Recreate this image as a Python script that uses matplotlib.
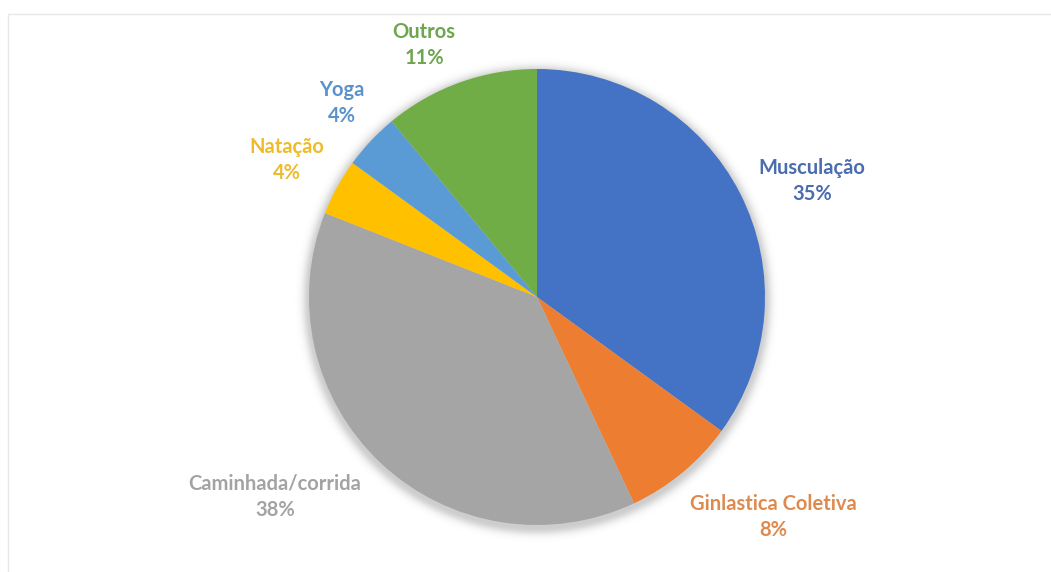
import numpy as np
import matplotlib
matplotlib.use("Agg")
import matplotlib.pyplot as plt
from matplotlib.patches import Rectangle

# atividades praticadas (%)
atividades = ["Musculação", "Ginlastica Coletiva", "Caminhada/corrida",
              "Natação", "Yoga", "Outros"]
percentuais = [35, 8, 38, 4, 4, 11]
cores = ["#4472C4", "#ED7D31", "#A5A5A5", "#FFC000", "#5B9BD5", "#70AD47"]
cores_texto = ["#4A6DAE", "#DE8A4E", "#A3A3A3", "#EDBB2C", "#5B92CC", "#6EA54F"]

W, H = 1051, 572
centro = (537, H - 297)
raio = 228
# posicao (px) do centro de cada rotulo
pos_rotulos = [(812, 181), (773, 517), (275, 497), (287, 160), (342, 103), (424, 45)]

plt.rcParams["font.family"] = ["Lato", "DejaVu Sans"]

fig = plt.figure(figsize=(W / 100, H / 100), dpi=100)
ax = fig.add_axes([0, 0, 1, 1])

# borda leve da area do grafico
ax.add_patch(Rectangle((8, -10), W + 20, H - 14 + 10, fill=False,
                       edgecolor="#e8e8e8", lw=1.0, zorder=0))

# sombra suave atras da pizza
m = 30
xs = np.arange(centro[0] - raio - m, centro[0] + raio + m)
ys = np.arange(centro[1] - raio - m, centro[1] + raio + m)
gx, gy = np.meshgrid(xs, ys)
d = np.hypot(gx - centro[0], gy - (centro[1] - 3)) - raio
alpha = 0.35 * np.exp(-np.clip(d, 0, None) ** 2 / (2 * 5.0 ** 2))
alpha[d < 0] = 0.35
img = np.zeros((len(ys), len(xs), 4))
img[..., :3] = 0.45
img[..., 3] = alpha
ax.imshow(img, extent=(xs[0], xs[-1], ys[0], ys[-1]), origin="lower",
          zorder=1, interpolation="bilinear")

wedges, _ = ax.pie(percentuais, colors=cores, startangle=90, counterclock=False,
                   center=centro, radius=raio, frame=True,
                   wedgeprops=dict(linewidth=0))
for w in wedges:
    w.set_zorder(2)
ax.set_xlim(0, W)
ax.set_ylim(0, H)
ax.set_aspect("equal")
ax.axis("off")

for nome, p, c, (x, y) in zip(atividades, percentuais, cores_texto, pos_rotulos):
    ax.text(x, H - y, f"{nome}\n{p}%", ha="center", va="center", color=c,
            fontsize=14.5, fontweight="bold", linespacing=1.4, zorder=3)

fig.savefig("out.png", dpi=100, facecolor="white")
